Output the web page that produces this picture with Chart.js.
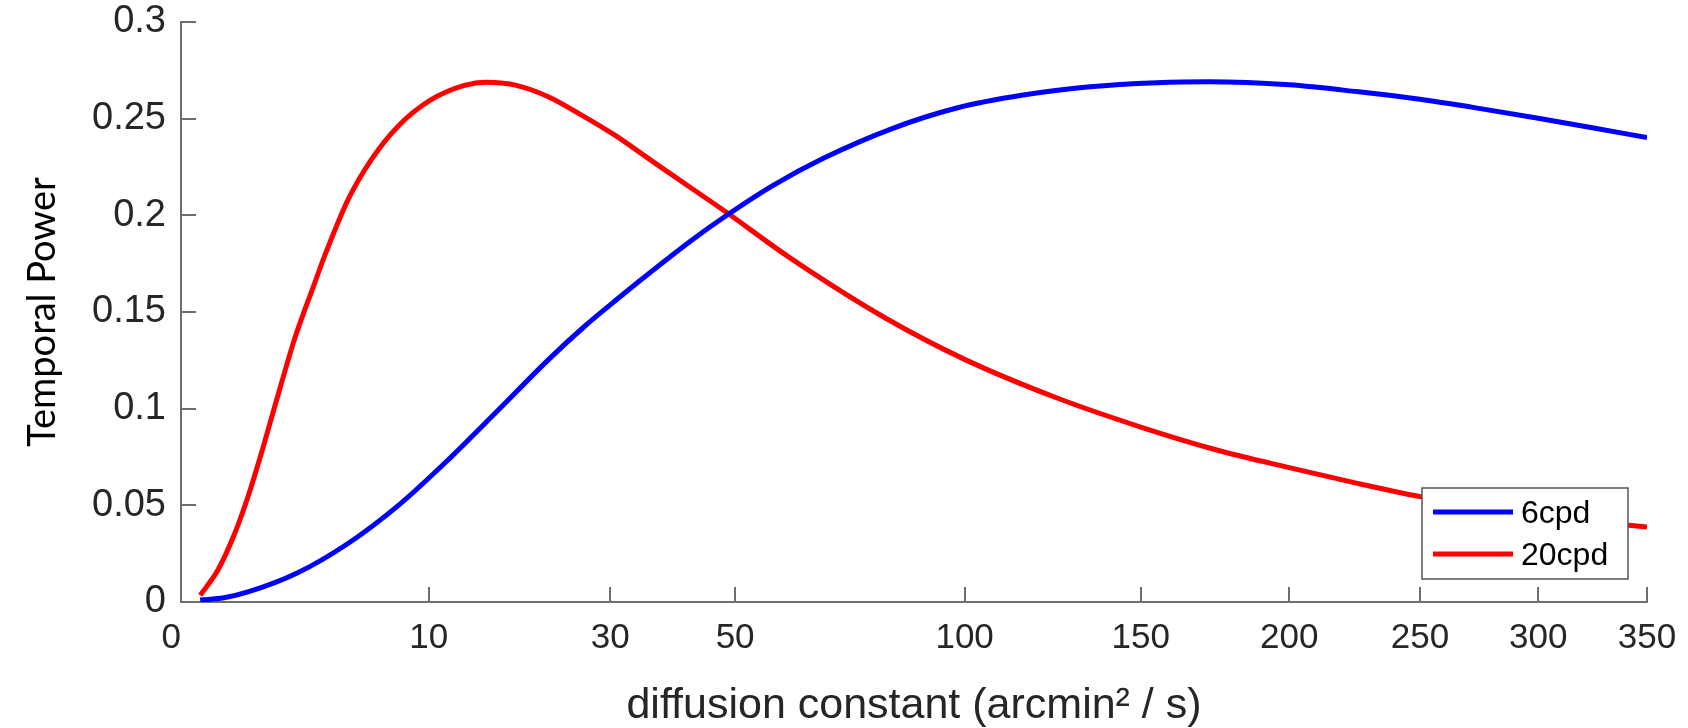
<!DOCTYPE html>
<html>
<head>
<meta charset="utf-8">
<script src="https://cdn.jsdelivr.net/npm/chart.js@4.4.1/dist/chart.umd.min.js"></script>
<style>
  html, body { margin: 0; padding: 0; background: #fff; }
  #wrap { width: 1688px; height: 728px; }
</style>
</head>
<body>
<div id="wrap"><canvas id="powerChart"></canvas></div>
<script>
// values: diffusion constant (arcmin^2/s) -> temporal power
const diffusion6 = [0.06, 0.3, 0.73, 2.2, 4.5, 7.7, 11.6, 16.4, 21.9, 26.5, 30.6, 33.5, 42.2, 48,
  57.1, 67.2, 81.9, 98, 115.5, 134.5, 155, 172, 200, 225, 250, 275, 300, 325, 350];
const power6 = [0.001, 0.0022, 0.0052, 0.015, 0.030, 0.050, 0.0734, 0.0993, 0.125, 0.1425, 0.1555, 0.164, 0.1865, 0.199,
  0.2155, 0.2295, 0.2445, 0.2555, 0.2622, 0.2665, 0.2686, 0.2691, 0.2675, 0.264, 0.2600, 0.2552, 0.2502, 0.2452, 0.2402];

const diffusion20 = [0.06, 0.22, 0.47, 0.73, 1.05, 1.33, 1.64, 2.1, 2.49, 2.76, 3.36, 4.54, 5.89, 7.66,
  10.19, 13.09, 15.17, 18.1, 21.9, 26.07, 30.6, 35.5, 42.2, 48, 60.4, 81.1, 100, 125, 150, 175, 200,
  225, 250, 275, 300, 325, 350];
const power20 = [0.0035, 0.0164, 0.0354, 0.0544, 0.0768, 0.095, 0.113, 0.136, 0.151, 0.160, 0.179, 0.208, 0.2287, 0.246,
  0.2598, 0.2672, 0.2689, 0.2675, 0.2615, 0.252, 0.2416, 0.2296, 0.2145, 0.2025, 0.178, 0.1465, 0.1255, 0.1055, 0.0905, 0.0785, 0.0695,
  0.0615, 0.0545, 0.049, 0.0448, 0.0415, 0.0388];

const seriesLabels = ['6cpd', '20cpd'];
const xTickValues = [0, 10, 30, 50, 100, 150, 200, 250, 300, 350];
const yTickValues = [0, 0.05, 0.1, 0.15, 0.2, 0.25, 0.3];

const sansFamily = '"Liberation Sans", Arial, Helvetica, sans-serif';
const axisGray = '#6e6e6e';
const labelGray = '#262626';

// the x axis of the figure is spaced by sqrt(D)
function toPoints(ds, ps) {
  return ds.map((d, i) => ({ x: Math.sqrt(d), y: ps[i] }));
}

// MATLAB style ticks pointing into the plot
const innerTicks = {
  id: 'innerTicks',
  afterDatasetsDraw(chart) {
    const { ctx, chartArea: a, scales: { x, y } } = chart;
    ctx.save();
    ctx.strokeStyle = axisGray;
    ctx.lineWidth = 2;
    ctx.beginPath();
    x.ticks.forEach((t, i) => {
      if (i === 0) return;
      const px = Math.round(x.getPixelForValue(t.value));
      ctx.moveTo(px, a.bottom);
      ctx.lineTo(px, a.bottom - 15);
    });
    y.ticks.forEach((t, i) => {
      if (i === 0) return;
      const py = Math.round(y.getPixelForValue(t.value));
      ctx.moveTo(a.left, py);
      ctx.lineTo(a.left + 15, py);
    });
    ctx.stroke();
    ctx.restore();
  }
};

// boxed legend in the lower right corner of the axes
const boxLegend = {
  id: 'boxLegend',
  afterDraw(chart) {
    const { ctx, chartArea: a } = chart;
    const w = 206, h = 91;
    const left = a.right - 19 - w, top = a.bottom - 23 - h;
    ctx.save();
    ctx.fillStyle = '#fff';
    ctx.fillRect(left, top, w, h);
    ctx.strokeStyle = '#555';
    ctx.lineWidth = 1.5;
    ctx.strokeRect(left, top, w, h);
    ctx.font = '32px ' + sansFamily;
    ctx.textBaseline = 'middle';
    chart.data.datasets.forEach((ds, i) => {
      const cy = top + 24 + i * 42;
      ctx.strokeStyle = ds.borderColor;
      ctx.lineWidth = 5;
      ctx.beginPath();
      ctx.moveTo(left + 11, cy);
      ctx.lineTo(left + 91, cy);
      ctx.stroke();
      ctx.fillStyle = '#000';
      ctx.fillText(ds.label, left + 99, cy + 2);
    });
    ctx.restore();
  }
};

const data = {
  datasets: [{
    label: seriesLabels[0],
    data: toPoints(diffusion6, power6),
    borderColor: '#0000ff',
    borderWidth: 5,
    pointRadius: 0,
    cubicInterpolationMode: 'monotone',
  }, {
    label: seriesLabels[1],
    data: toPoints(diffusion20, power20),
    borderColor: '#ff0000',
    borderWidth: 5,
    pointRadius: 0,
    cubicInterpolationMode: 'monotone',
  }],
};

const config = {
  type: 'line',
  data: data,
  options: {
    responsive: true,
    maintainAspectRatio: false,
    animation: false,
    layout: { padding: { top: 22, right: 41, left: 0, bottom: 0 } },
    plugins: {
      legend: { display: false },
      tooltip: { enabled: false },
    },
    scales: {
      x: {
        type: 'linear',
        min: 0,
        max: Math.sqrt(350),
        afterBuildTicks: (scale) => {
          scale.ticks = xTickValues.map(v => ({ value: Math.sqrt(v) }));
        },
        afterFit: (scale) => {
          scale.height = 126;
          scale.paddingLeft = 0;
          scale.paddingRight = 0;
        },
        grid: { display: true, drawOnChartArea: false, drawTicks: false },
        border: { display: true, color: axisGray, width: 2 },
        ticks: {
          padding: 15,
          color: labelGray,
          font: { family: sansFamily, size: 35 },
          maxRotation: 0,
          autoSkip: false,
          // the first label sits a little left of the axis corner in the figure
          callback: (v, i) => (i === 0 ? String(xTickValues[i]) + '  ' : String(xTickValues[i])),
        },
        title: {
          display: true,
          text: 'diffusion constant (arcmin\u00B2 / s)',
          color: labelGray,
          font: { family: sansFamily, size: 43, lineHeight: 1 },
          padding: { top: 0, bottom: 0 },
        },
      },
      y: {
        min: 0,
        max: 0.3,
        afterBuildTicks: (scale) => {
          scale.ticks = yTickValues.map(v => ({ value: v }));
        },
        afterFit: (scale) => {
          scale.width = 181;
          scale.paddingTop = 0;
          scale.paddingBottom = 0;
        },
        grid: { display: true, drawOnChartArea: false, drawTicks: false },
        border: { display: true, color: axisGray, width: 2 },
        ticks: {
          padding: 15,
          color: labelGray,
          font: { family: sansFamily, size: 38 },
          callback: (v) => String(+v.toFixed(2)),
        },
        title: {
          display: true,
          text: 'Temporal Power',
          color: '#000',
          font: { family: 'Lato, "Open Sans", sans-serif', size: 38, lineHeight: 1 },
          padding: { top: 24, bottom: 0 },
        },
      },
    },
  },
  plugins: [innerTicks, boxLegend],
};

new Chart(document.getElementById('powerChart'), config);
</script>
</body>
</html>
